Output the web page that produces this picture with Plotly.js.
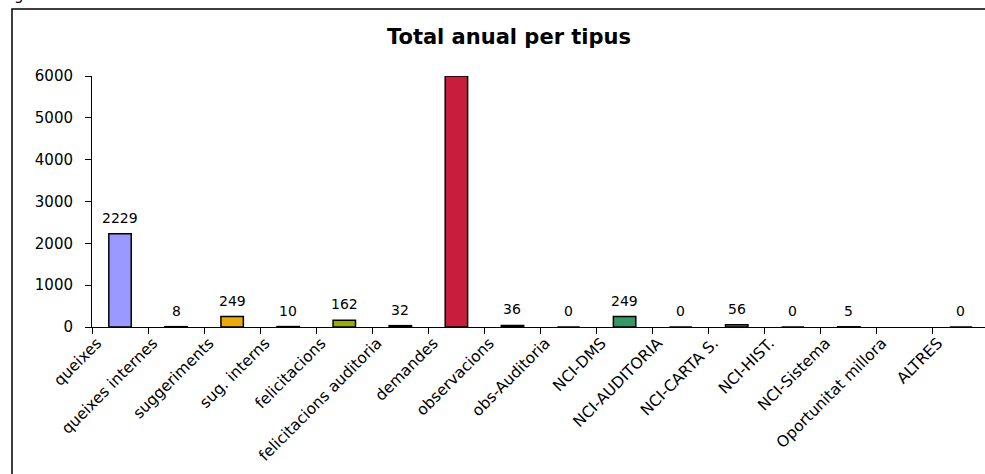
<!DOCTYPE html>
<html>
<head>
<meta charset="utf-8">
<script src="https://cdn.plot.ly/plotly-3.0.1.min.js"></script>
<style>
  html, body { margin: 0; padding: 0; background: #fff; }
  #chart { width: 985px; height: 474px; }
</style>
</head>
<body>
<div id="chart"></div>
<script>
// ---- data ----
const categories = [
  "queixes", "queixes internes", "suggeriments", "sug. interns",
  "felicitacions", "felicitacions auditoria", "demandes", "observacions",
  "obs-Auditoria", "NCI-DMS", "NCI-AUDITORIA", "NCI-CARTA S.",
  "NCI-HIST.", "NCI-Sistema", "Oportunitat millora", "ALTRES"
];
const values = [2229, 8, 249, 10, 162, 32, 6002, 36, 0, 249, 0, 56, 0, 5, null, 0];
const yTicks = [0, 1000, 2000, 3000, 4000, 5000, 6000];
const titleText = "Total anual per tipus";
const cornerText = "g";

// ---- styles ----
const barColors = [
  "#9999FF", "#9999FF", "#EBAA0C", "#EBAA0C",
  "#9BAA08", "#9BAA08", "#C81E3C", "#C81E3C",
  "#339966", "#339966", "#339966", "#7B7BE0",
  "#7B7BE0", "#7B7BE0", "#999999", "#999999"
];
const FONT = "DejaVu Sans, Liberation Sans, Arial, sans-serif";

const L = 92, T = 76, W = 985, H = 474, B = 147;
const plotW = W - L, plotH = H - T - B;
const px2x = p => (p - L) / plotW;
const py2y = p => (H - B - p) / plotH;

const trace = {
  type: "bar",
  x: categories,
  y: values,
  width: 0.4,
  marker: { color: barColors, line: { color: "#000", width: 1.5 } },
  hoverinfo: "skip"
};

// value labels above each bar
const valueLabels = [];
categories.forEach((c, i) => {
  if (values[i] === null) return;
  valueLabels.push({
    x: c, y: values[i], xref: "x", yref: "y",
    text: String(values[i]), showarrow: false,
    xanchor: "center", yanchor: "middle", yshift: 16,
    font: { family: FONT, size: 14, color: "#000" }
  });
});

const layout = {
  width: W, height: H,
  margin: { l: L, r: 0, t: T, b: B, pad: 0 },
  paper_bgcolor: "#fff", plot_bgcolor: "#fff",
  showlegend: false,
  title: {
    text: "<b>" + titleText + "</b>",
    font: { family: FONT, size: 21, color: "#000" },
    xref: "container", x: 509 / W, xanchor: "center",
    yref: "container", y: 1 - 29 / H, yanchor: "top"
  },
  xaxis: {
    type: "category",
    range: [-0.5, 15.5 - 4 / 56],
    tickson: "boundaries",
    ticks: "outside", ticklen: 6, tickcolor: "#000", tickwidth: 1,
    showline: true, linecolor: "#000", linewidth: 1,
    showgrid: false, zeroline: false,
    tickangle: -45,
    ticklabelshift: -23,
    ticklabelstandoff: 0,
    tickfont: { family: FONT, size: 15.5, color: "#000" },
    fixedrange: true
  },
  yaxis: {
    range: [0, 6000],
    tickvals: yTicks,
    ticktext: yTicks.map(String),
    ticks: "outside", ticklen: 6, tickcolor: "#000", tickwidth: 1,
    showline: true, linecolor: "#000", linewidth: 1,
    showgrid: false, zeroline: false,
    ticklabelstandoff: 9,
    tickfont: { family: FONT, size: 15, color: "#000" },
    fixedrange: true
  },
  shapes: [{
    type: "rect", xref: "paper", yref: "paper",
    x0: px2x(12), x1: px2x(995), y0: py2y(490), y1: py2y(9),
    line: { color: "#000", width: 1.5 }, fillcolor: "rgba(0,0,0,0)", layer: "above"
  }],
  annotations: valueLabels.concat([{
    text: cornerText, xref: "paper", yref: "paper",
    x: px2x(19), y: py2y(-5), xanchor: "center", yanchor: "middle",
    showarrow: false, font: { family: FONT, size: 15, color: "#000" }
  }])
};

Plotly.newPlot("chart", [trace], layout, { displayModeBar: false, staticPlot: true });
</script>
</body>
</html>
